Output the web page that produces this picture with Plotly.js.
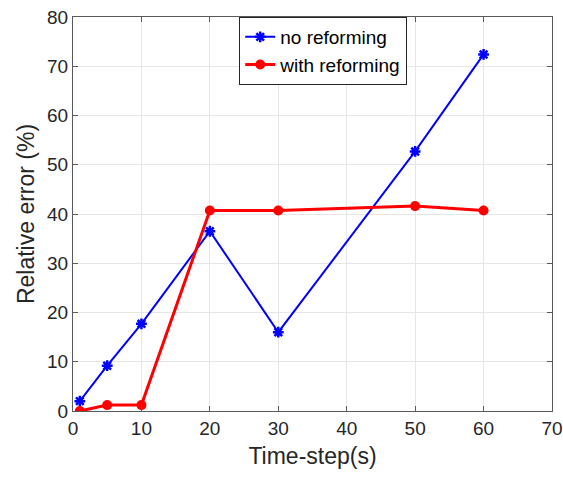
<!DOCTYPE html>
<html><head><meta charset="utf-8">
<script src="https://cdn.plot.ly/plotly-3.0.1.min.js"></script>
<style>body{margin:0;background:#fff}#chart{width:563px;height:477px}</style>
</head><body><div id="chart"></div>
<script>
const timeSteps = [1, 5, 10, 20, 30, 50, 60];
const noReforming = [2.0, 9.2, 17.7, 36.5, 16.0, 52.7, 72.4];
const withReforming = [0.0, 1.2, 1.2, 40.7, 40.7, 41.6, 40.7];
const seriesNames = ['no reforming', 'with reforming'];

const FONT = 'Liberation Sans, Arial, sans-serif';
const traces = [
  {x: timeSteps, y: noReforming, name: seriesNames[0], mode: 'lines+markers',
   line: {color: '#0000ff', width: 2},
   marker: {symbol: 'asterisk-open', size: 9, color: '#0000ff', line: {color: '#0000ff', width: 2.5}}},
  {x: timeSteps, y: withReforming, name: seriesNames[1], mode: 'lines+markers',
   line: {color: '#ff0000', width: 3},
   marker: {symbol: 'circle', size: 10, color: '#ff0000'}}
];
const axisCommon = {
  showgrid: true, gridcolor: '#e6e6e6', gridwidth: 1, zeroline: false,
  showline: true, linecolor: '#5a5a5a', linewidth: 1, mirror: 'ticks',
  ticks: 'inside', ticklen: 5, tickcolor: '#5a5a5a',
  tickfont: {family: FONT, size: 19, color: '#262626'}
};
const layout = {
  width: 563, height: 477,
  margin: {l: 73, r: 11, t: 17, b: 66},
  paper_bgcolor: '#fff', plot_bgcolor: '#fff',
  showlegend: true,
  legend: {x: 0.347, y: 1.0, xanchor: 'left', yanchor: 'top', bgcolor: '#fff',
    bordercolor: '#262626', borderwidth: 1,
    font: {family: FONT, size: 19, color: '#000'},
    tracegroupgap: 0},
  xaxis: Object.assign({}, axisCommon, {range: [0, 70], dtick: 10,
    title: {text: 'Time-step(s)', font: {family: FONT, size: 23, color: '#262626'}, standoff: 10}}),
  yaxis: Object.assign({}, axisCommon, {range: [0, 80], dtick: 10,
    title: {text: 'Relative error (%)', font: {family: FONT, size: 23, color: '#262626'}, standoff: 6}})
};
Plotly.newPlot('chart', traces, layout, {displayModeBar: false, staticPlot: true});
</script></body></html>
